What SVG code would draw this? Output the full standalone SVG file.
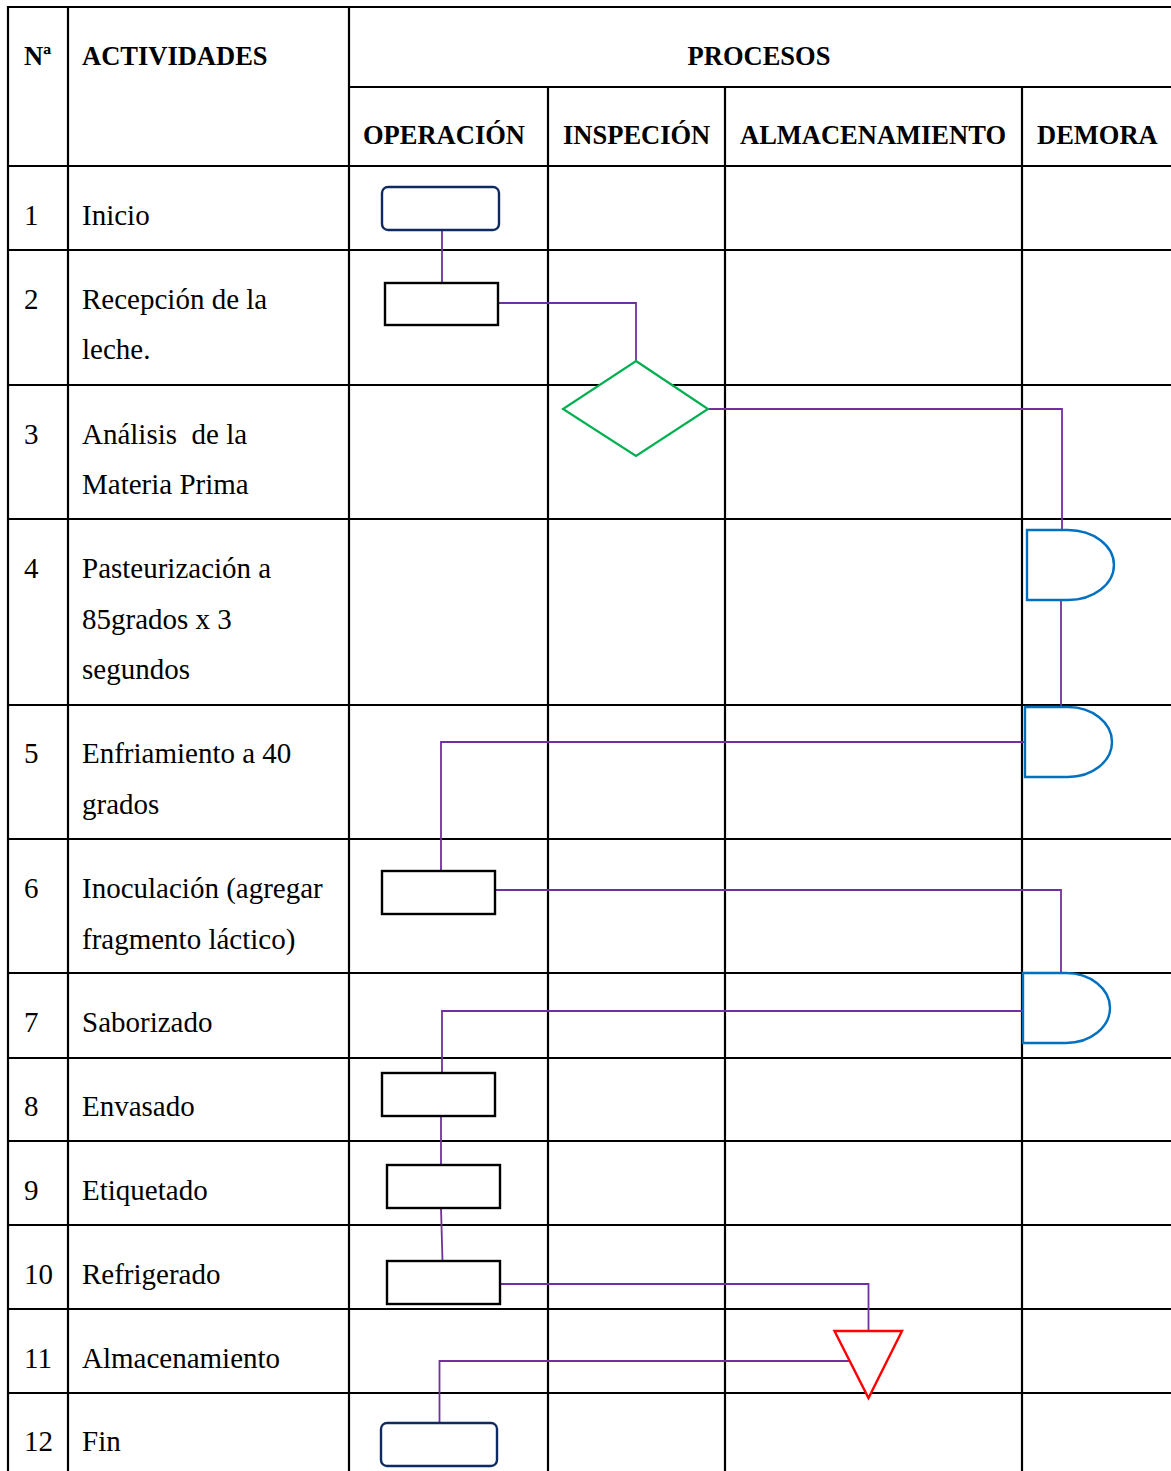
<svg xmlns="http://www.w3.org/2000/svg" width="1171" height="1471" viewBox="0 0 1171 1471">
  <style>
    .grid { stroke: #000; stroke-width: 2.2; fill: none; }
    .hd { font-family: "Liberation Serif", "Times New Roman", serif; font-weight: bold; font-size: 26.5px; fill: #000; }
    .tx { font-family: "Liberation Serif", "Times New Roman", serif; font-size: 29px; fill: #000; }
    .term { fill: #fff; stroke: #0f2a60; stroke-width: 2.4; }
    .op { fill: #fff; stroke: #000; stroke-width: 2.4; }
    .insp { fill: #fff; stroke: #00b050; stroke-width: 2.2; }
    .delay { fill: #fff; stroke: #0070c0; stroke-width: 2.4; }
    .store { fill: #fff; stroke: #ff0000; stroke-width: 2.4; }
    .link { fill: none; stroke: #7030a0; stroke-width: 1.8; }
  </style>
  <rect x="0" y="0" width="1171" height="1471" fill="#fff"/>

  <!-- table grid -->
  <g id="grid" class="grid">
    <line x1="8" y1="7" x2="1171" y2="7"/>
    <line x1="349" y1="87" x2="1171" y2="87"/>
    <line x1="8" y1="166" x2="1171" y2="166"/>
    <line x1="8" y1="250" x2="1171" y2="250"/>
    <line x1="8" y1="385" x2="1171" y2="385"/>
    <line x1="8" y1="519" x2="1171" y2="519"/>
    <line x1="8" y1="705" x2="1171" y2="705"/>
    <line x1="8" y1="839" x2="1171" y2="839"/>
    <line x1="8" y1="973" x2="1171" y2="973"/>
    <line x1="8" y1="1058" x2="1171" y2="1058"/>
    <line x1="8" y1="1141" x2="1171" y2="1141"/>
    <line x1="8" y1="1225" x2="1171" y2="1225"/>
    <line x1="8" y1="1309" x2="1171" y2="1309"/>
    <line x1="8" y1="1393" x2="1171" y2="1393"/>
    <line x1="8" y1="6" x2="8" y2="1471"/>
    <line x1="68" y1="6" x2="68" y2="1471"/>
    <line x1="349" y1="6" x2="349" y2="1471"/>
    <line x1="548" y1="87" x2="548" y2="1471"/>
    <line x1="725" y1="87" x2="725" y2="1471"/>
    <line x1="1022" y1="87" x2="1022" y2="1471"/>
  </g>

  <!-- header -->
  <g id="header">
    <text class="hd" x="24" y="65">Nª</text>
    <text class="hd" x="82" y="65">ACTIVIDADES</text>
    <text class="hd" x="759" y="65" text-anchor="middle">PROCESOS</text>
    <text class="hd" x="363" y="144">OPERACIÓN</text>
    <text class="hd" x="563" y="144">INSPECIÓN</text>
    <text class="hd" x="740" y="144">ALMACENAMIENTO</text>
    <text class="hd" x="1037" y="144">DEMORA</text>
  </g>

  <!-- activity rows -->
  <g id="activities">
    <text class="tx" x="24" y="225">1</text>
    <text class="tx" x="82" y="225">Inicio</text>
    <text class="tx" x="24" y="309">2</text>
    <text class="tx" x="82" y="309">Recepción de la</text>
    <text class="tx" x="82" y="359">leche.</text>
    <text class="tx" x="24" y="444">3</text>
    <text class="tx" x="82" y="444" xml:space="preserve">Análisis  de la</text>
    <text class="tx" x="82" y="494">Materia Prima</text>
    <text class="tx" x="24" y="578">4</text>
    <text class="tx" x="82" y="578">Pasteurización a</text>
    <text class="tx" x="82" y="629">85grados x 3</text>
    <text class="tx" x="82" y="679">segundos</text>
    <text class="tx" x="24" y="763">5</text>
    <text class="tx" x="82" y="763">Enfriamiento a 40</text>
    <text class="tx" x="82" y="814">grados</text>
    <text class="tx" x="24" y="898">6</text>
    <text class="tx" x="82" y="898">Inoculación (agregar</text>
    <text class="tx" x="82" y="949">fragmento láctico)</text>
    <text class="tx" x="24" y="1032">7</text>
    <text class="tx" x="82" y="1032">Saborizado</text>
    <text class="tx" x="24" y="1116">8</text>
    <text class="tx" x="82" y="1116">Envasado</text>
    <text class="tx" x="24" y="1200">9</text>
    <text class="tx" x="82" y="1200">Etiquetado</text>
    <text class="tx" x="24" y="1284">10</text>
    <text class="tx" x="82" y="1284">Refrigerado</text>
    <text class="tx" x="24" y="1368">11</text>
    <text class="tx" x="82" y="1368">Almacenamiento</text>
    <text class="tx" x="24" y="1451">12</text>
    <text class="tx" x="82" y="1451">Fin</text>
  </g>

  <!-- connectors -->
  <g id="connectors" class="link">
    <path d="M442,230 V283"/>
    <path d="M498,303 H636 V361"/>
    <path d="M708,409 H1062 V530"/>
    <path d="M1061,600 V707"/>
    <path d="M1025,742 H441 V871"/>
    <path d="M495,890 H1061 V973"/>
    <path d="M1023,1011 H442 V1073"/>
    <path d="M441,1116 V1165"/>
    <path d="M441,1208 L442.5,1261"/>
    <path d="M500,1284 H868.5 V1331"/>
    <path d="M849,1361 H439.5 V1423"/>
  </g>

  <!-- process symbols -->
  <g id="n1-inicio"><rect class="term" x="382" y="187" width="117" height="43" rx="6"/></g>
  <g id="n2-recepcion"><rect class="op" x="385" y="283" width="113" height="42"/></g>
  <g id="n3-analisis"><polygon class="insp" points="636,361 708,409 636,456 563,409"/></g>
  <g id="n4-pasteurizacion"><path class="delay" d="M1027,530 H1068 A46,35 0 0 1 1068,600 H1027 Z"/></g>
  <g id="n5-enfriamiento"><path class="delay" d="M1025,707 H1068 A44,35 0 0 1 1068,777 H1025 Z"/></g>
  <g id="n6-inoculacion"><rect class="op" x="382" y="871" width="113" height="43"/></g>
  <g id="n7-saborizado"><path class="delay" d="M1023,973 H1066 A44,35 0 0 1 1066,1043 H1023 Z"/></g>
  <g id="n8-envasado"><rect class="op" x="382" y="1073" width="113" height="43"/></g>
  <g id="n9-etiquetado"><rect class="op" x="387" y="1165" width="113" height="43"/></g>
  <g id="n10-refrigerado"><rect class="op" x="387" y="1261" width="113" height="43"/></g>
  <g id="n11-almacenamiento"><polygon class="store" points="834.5,1331 902,1331 868.5,1398"/></g>
  <g id="n12-fin"><rect class="term" x="381" y="1423" width="116" height="43" rx="6"/></g>
</svg>
